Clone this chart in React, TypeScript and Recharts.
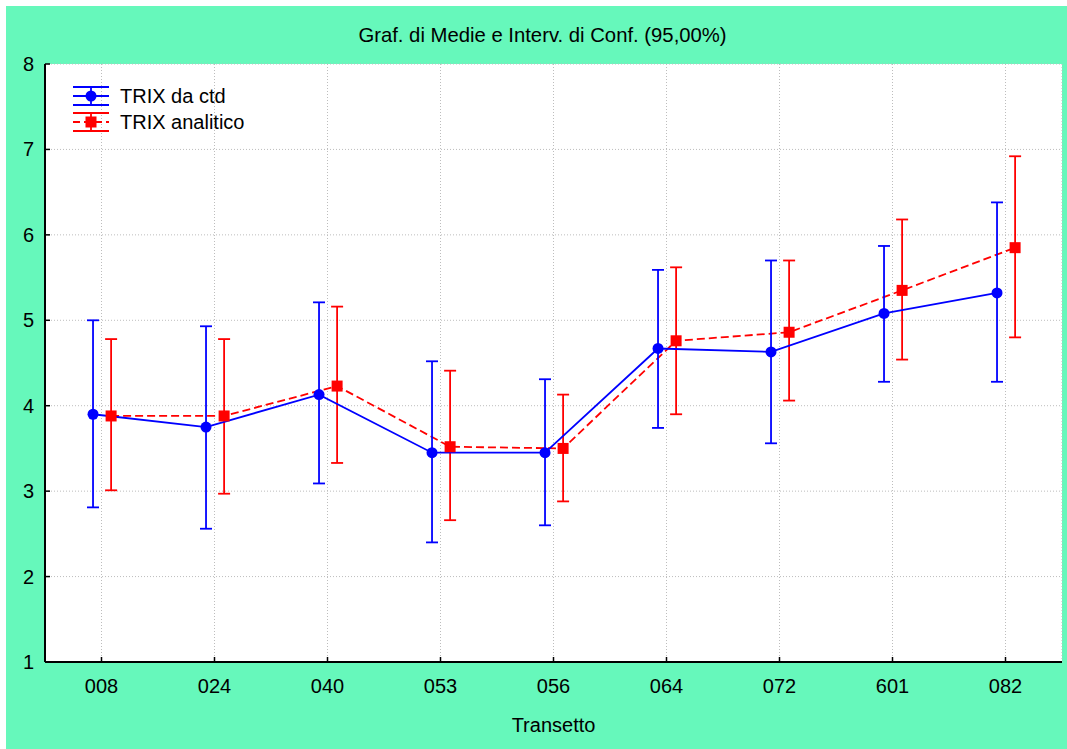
import React from 'react';
import {
  LineChart, Line, XAxis, YAxis, CartesianGrid, ErrorBar, Label,
} from 'recharts';

// Transect codes along the x axis
const categories = ['008', '024', '040', '053', '056', '064', '072', '601', '082'];

// TRIX from CTD probe: mean and 95% confidence limits
const ctdMean = [3.90, 3.75, 4.13, 3.45, 3.45, 4.67, 4.63, 5.08, 5.32];
const ctdLow = [2.81, 2.56, 3.09, 2.40, 2.60, 3.74, 3.56, 4.28, 4.28];
const ctdHigh = [5.00, 4.93, 5.21, 4.52, 4.31, 5.59, 5.70, 5.87, 6.38];

// TRIX from lab analysis: mean and 95% confidence limits
const anaMean = [3.88, 3.88, 4.23, 3.52, 3.50, 4.76, 4.86, 5.35, 5.85];
const anaLow = [3.01, 2.97, 3.33, 2.66, 2.88, 3.90, 4.06, 4.54, 4.80];
const anaHigh = [4.78, 4.78, 5.16, 4.41, 4.13, 5.62, 5.70, 6.18, 6.92];

const yTicks = [1, 2, 3, 4, 5, 6, 7, 8];
const xTicks = categories.map((_, i) => i);

const GREEN = '#66f8bb';
const BLUE = '#0000ff';
const RED = '#ff0000';
const FONT = '"Liberation Sans", Arial, sans-serif';
const LW = 1.8;

// the two series sit slightly left / right of each category
const build = (mean: number[], low: number[], high: number[], shift: number) =>
  mean.map((m, i) => ({
    x: i + shift,
    y: m,
    err: [m - low[i], high[i] - m],
  }));

const ctdData = build(ctdMean, ctdLow, ctdHigh, -0.075);
const anaData = build(anaMean, anaLow, anaHigh, 0.085);

const BottomTick = (props: any) => {
  const { x, y, payload } = props;
  return (
    <g>
      <line x1={x} y1={y} x2={x} y2={y - 5} stroke="#000" strokeWidth={1.5} />
      <text x={x} y={y + 31} textAnchor="middle" fontSize={20} fontFamily={FONT} fill="#000">
        {categories[payload.value]}
      </text>
    </g>
  );
};

const LeftTick = (props: any) => {
  const { x, y, payload } = props;
  return (
    <g>
      <line x1={x} y1={y} x2={x + 5} y2={y} stroke="#000" strokeWidth={1.5} />
      <text x={x - 11} y={y + 7} textAnchor="end" fontSize={20} fontFamily={FONT} fill="#000">
        {payload.value}
      </text>
    </g>
  );
};

const TopTick = (props: any) => {
  const { x, y } = props;
  return <line x1={x} y1={y} x2={x} y2={y + 5} stroke="#000" strokeWidth={1.5} />;
};

const RightTick = (props: any) => {
  const { x, y } = props;
  return <line x1={x} y1={y} x2={x - 5} y2={y} stroke="#000" strokeWidth={1.5} />;
};

const SquareDot = (props: any) => {
  const { cx, cy, index } = props;
  return <rect key={index} x={cx - 5.5} y={cy - 5.5} width={11} height={11} fill={RED} />;
};

const LegendIcon = ({ color, dashed, square }: { color: string; dashed?: boolean; square?: boolean }) => (
  <svg width={36} height={22} style={{ display: 'block' }}>
    <line x1={0} y1={2} x2={36} y2={2} stroke={color} strokeWidth={LW} />
    <line x1={0} y1={20} x2={36} y2={20} stroke={color} strokeWidth={LW} />
    <line x1={18} y1={2} x2={18} y2={20} stroke={color} strokeWidth={LW} />
    <line x1={0} y1={11} x2={36} y2={11} stroke={color} strokeWidth={LW} strokeDasharray={dashed ? '7 4' : undefined} />
    {square
      ? <rect x={12.5} y={5.5} width={11} height={11} fill={color} />
      : <circle cx={18} cy={11} r={5.5} fill={color} />}
  </svg>
);

export default function App() {
  return (
    <div style={{ position: 'absolute', left: 0, top: 0, width: 1067, height: 749, background: '#fff', fontFamily: FONT, overflow: 'hidden' }}>
      <div style={{ position: 'absolute', left: 6, top: 6, width: 1061, height: 743, background: GREEN }}>
        <LineChart width={1061} height={743} margin={{ top: 58, right: 5, bottom: 0, left: 0 }}>
          <CartesianGrid fill="#fff" stroke="#bdbdbd" strokeDasharray="1 2" xAxisId="x" yAxisId="y" />
          <XAxis
            xAxisId="x"
            type="number"
            dataKey="x"
            domain={[-0.5, 8.5]}
            ticks={xTicks}
            interval={0}
            height={87}
            tickSize={0}
            tickMargin={0}
            tickLine={false}
            tick={<BottomTick />}
            axisLine={{ stroke: '#000', strokeWidth: 2 }}
          >
            <Label value="Transetto" position="insideBottom" offset={17} fontSize={20} fontFamily={FONT} fill="#000" />
          </XAxis>
          <XAxis
            xAxisId="top"
            orientation="top"
            type="number"
            dataKey="x"
            domain={[-0.5, 8.5]}
            ticks={xTicks}
            interval={0}
            height={0}
            tickSize={0}
            tickMargin={0}
            tickLine={false}
            tick={<TopTick />}
            axisLine={{ stroke: '#000', strokeWidth: 2 }}
          />
          <YAxis
            yAxisId="y"
            type="number"
            domain={[1, 8]}
            ticks={yTicks}
            interval={0}
            width={39}
            tickSize={0}
            tickMargin={0}
            tickLine={false}
            tick={<LeftTick />}
            allowDataOverflow
            axisLine={{ stroke: '#000', strokeWidth: 2 }}
          />
          <YAxis
            yAxisId="right"
            orientation="right"
            type="number"
            domain={[1, 8]}
            ticks={yTicks}
            interval={0}
            width={0}
            tickSize={0}
            tickMargin={0}
            tickLine={false}
            tick={<RightTick />}
            allowDataOverflow
            axisLine={{ stroke: '#000', strokeWidth: 2 }}
          />
          <Line
            data={anaData}
            xAxisId="x"
            yAxisId="y"
            dataKey="y"
            stroke={RED}
            strokeWidth={LW}
            strokeDasharray="8 4"
            dot={<SquareDot />}
            isAnimationActive={false}
          >
            <ErrorBar dataKey="err" width={6} stroke={RED} strokeWidth={LW} />
          </Line>
          <Line
            data={ctdData}
            xAxisId="x"
            yAxisId="y"
            dataKey="y"
            stroke={BLUE}
            strokeWidth={LW}
            dot={{ r: 5.5, fill: BLUE, stroke: BLUE, strokeWidth: 0 }}
            isAnimationActive={false}
          >
            <ErrorBar dataKey="err" width={6} stroke={BLUE} strokeWidth={LW} />
          </Line>
        </LineChart>

        <div style={{ position: 'absolute', left: 536.5, top: 29, transform: 'translate(-50%, -50%)', fontSize: 20.3, whiteSpace: 'nowrap', color: '#000' }}>
          Graf. di Medie e Interv. di Conf. (95,00%)
        </div>

        <div style={{ position: 'absolute', left: 67, top: 79, fontSize: 20, color: '#000' }}>
          <div style={{ display: 'flex', alignItems: 'center', height: 22 }}>
            <LegendIcon color={BLUE} />
            <span style={{ marginLeft: 11 }}>TRIX da ctd</span>
          </div>
          <div style={{ display: 'flex', alignItems: 'center', height: 22, marginTop: 4 }}>
            <LegendIcon color={RED} dashed square />
            <span style={{ marginLeft: 11 }}>TRIX analitico</span>
          </div>
        </div>
      </div>
    </div>
  );
}
